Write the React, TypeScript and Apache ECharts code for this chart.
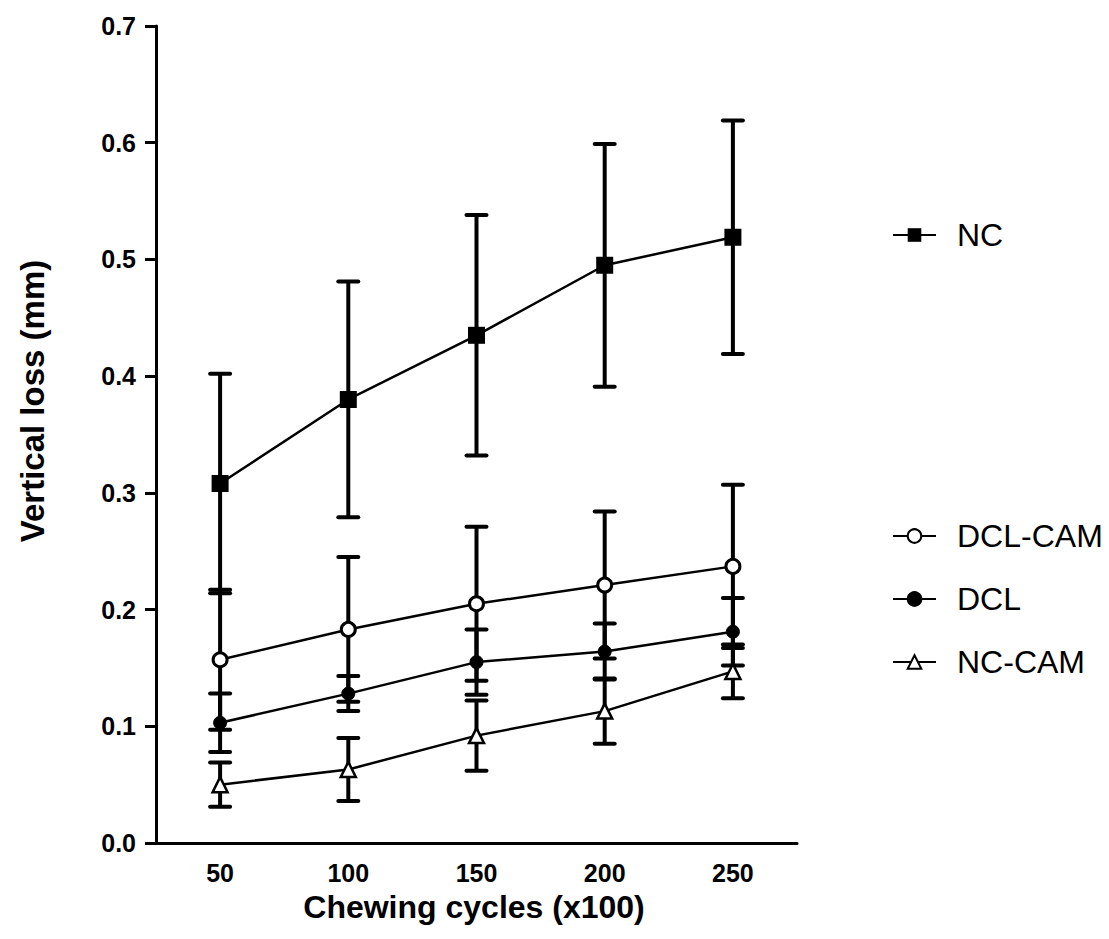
import React, { useEffect, useRef } from "react";
import * as echarts from "echarts";

const categories = ["50", "100", "150", "200", "250"];
const yTicks = [0, 0.1, 0.2, 0.3, 0.4, 0.5, 0.6, 0.7];

const ncMean = [0.308, 0.38, 0.435, 0.495, 0.519];
const ncErr = [0.094, 0.101, 0.103, 0.104, 0.1];
const dclCamMean = [0.157, 0.183, 0.205, 0.221, 0.237];
const dclCamErr = [0.06, 0.062, 0.066, 0.063, 0.07];
const dclMean = [0.103, 0.128, 0.155, 0.164, 0.181];
const dclErr = [0.025, 0.015, 0.028, 0.024, 0.029];
const ncCamMean = [0.05, 0.063, 0.092, 0.113, 0.147];
const ncCamErr = [0.019, 0.027, 0.03, 0.028, 0.023];

const FONT = "'Liberation Sans', Arial, sans-serif";

function errData(mean: number[], err: number[]) {
  return mean.map((m, i) => [i, m - err[i], m + err[i]]);
}

function errSeries(name: string, mean: number[], err: number[]) {
  return {
    type: "custom",
    name,
    z: 1,
    silent: true,
    data: errData(mean, err),
    encode: { x: 0, y: [1, 2] },
    renderItem: (params: any, api: any) => {
      const x = api.value(0);
      const lo = api.coord([x, api.value(1)]);
      const hi = api.coord([x, api.value(2)]);
      const half = 10;
      const st = { stroke: "#000", lineWidth: 4, lineCap: "round" };
      return {
        type: "group",
        children: [
          { type: "line", shape: { x1: lo[0], y1: lo[1], x2: hi[0], y2: hi[1] }, style: { stroke: "#000", lineWidth: 4 } },
          { type: "line", shape: { x1: hi[0] - half, y1: hi[1], x2: hi[0] + half, y2: hi[1] }, style: st },
          { type: "line", shape: { x1: lo[0] - half, y1: lo[1], x2: lo[0] + half, y2: lo[1] }, style: st },
        ],
      };
    },
  };
}

export default function App() {
  const ref = useRef<HTMLDivElement>(null);
  useEffect(() => {
    if (!ref.current) return;
    const chart = echarts.init(ref.current, null, { renderer: "svg" });
    const lineBase = (name: string, data: number[], symbol: string, size: number, itemStyle: any) => ({
      type: "line",
      name,
      data,
      z: 3,
      symbol,
      symbolSize: size,
      showSymbol: true,
      lineStyle: { color: "#000", width: 2.5 },
      itemStyle,
      emphasis: { disabled: true },
    });
    const legendText = { color: "#000", fontFamily: FONT, fontSize: 32, padding: [0, 0, 0, 16] };
    chart.setOption({
      animation: false,
      backgroundColor: "#fff",
      grid: { left: 156, right: 312, top: 26, bottom: 96, containLabel: false },
      xAxis: {
        type: "category",
        data: categories,
        boundaryGap: true,
        axisLine: { lineStyle: { color: "#000", width: 3 } },
        axisTick: { alignWithLabel: true, length: 12, lineStyle: { color: "#000", width: 3 } },
        axisLabel: { color: "#000", fontFamily: FONT, fontWeight: "bold", fontSize: 25, margin: 17 },
        splitLine: { show: false },
      },
      yAxis: {
        type: "value",
        min: 0,
        max: 0.7,
        interval: 0.1,
        axisLine: { show: true, lineStyle: { color: "#000", width: 3 } },
        axisTick: { show: true, length: 11, lineStyle: { color: "#000", width: 3 } },
        axisLabel: {
          color: "#000",
          fontFamily: FONT,
          fontWeight: "bold",
          fontSize: 25,
          margin: 20,
          formatter: (v: number) => {
            const t = yTicks.find((k) => Math.abs(k - v) < 1e-9);
            return (t !== undefined ? t : v).toFixed(1);
          },
        },
        splitLine: { show: false },
      },
      legend: [
        {
          data: ["NC"],
          left: 887,
          top: 214,
          orient: "vertical",
          itemWidth: 43,
          itemHeight: 17,
          textStyle: legendText,
          selectedMode: false,
        },
        {
          data: ["DCL-CAM", "DCL", "NC-CAM"],
          left: 887,
          top: 515,
          orient: "vertical",
          itemGap: 31,
          itemWidth: 43,
          itemHeight: 17,
          textStyle: legendText,
          selectedMode: false,
        },
      ],
      graphic: [
        {
          type: "text",
          x: 32,
          y: 401,
          rotation: Math.PI / 2,
          style: {
            text: "Vertical loss (mm)",
            fill: "#000",
            font: `bold 33px ${FONT}`,
            align: "center",
            verticalAlign: "middle",
          },
        },
        {
          type: "text",
          x: 474,
          y: 907,
          style: {
            text: "Chewing cycles (x100)",
            fill: "#000",
            font: `bold 32px ${FONT}`,
            align: "center",
            verticalAlign: "middle",
          },
        },
      ],
      series: [
        errSeries("NC-err", ncMean, ncErr),
        errSeries("DCL-CAM-err", dclCamMean, dclCamErr),
        errSeries("DCL-err", dclMean, dclErr),
        errSeries("NC-CAM-err", ncCamMean, ncCamErr),
        lineBase("NC", ncMean, "rect", 17, { color: "#000" }),
        lineBase("DCL-CAM", dclCamMean, "circle", 14, { color: "#fff", borderColor: "#000", borderWidth: 3 }),
        lineBase("DCL", dclMean, "circle", 13, { color: "#000", borderColor: "#000", borderWidth: 1 }),
        lineBase("NC-CAM", ncCamMean, "triangle", 15, { color: "#fff", borderColor: "#000", borderWidth: 2.5 }),
      ],
    });
    return () => chart.dispose();
  }, []);
  return <div ref={ref} style={{ position: "absolute", left: 0, top: 0, width: 1109, height: 939 }} />;
}
